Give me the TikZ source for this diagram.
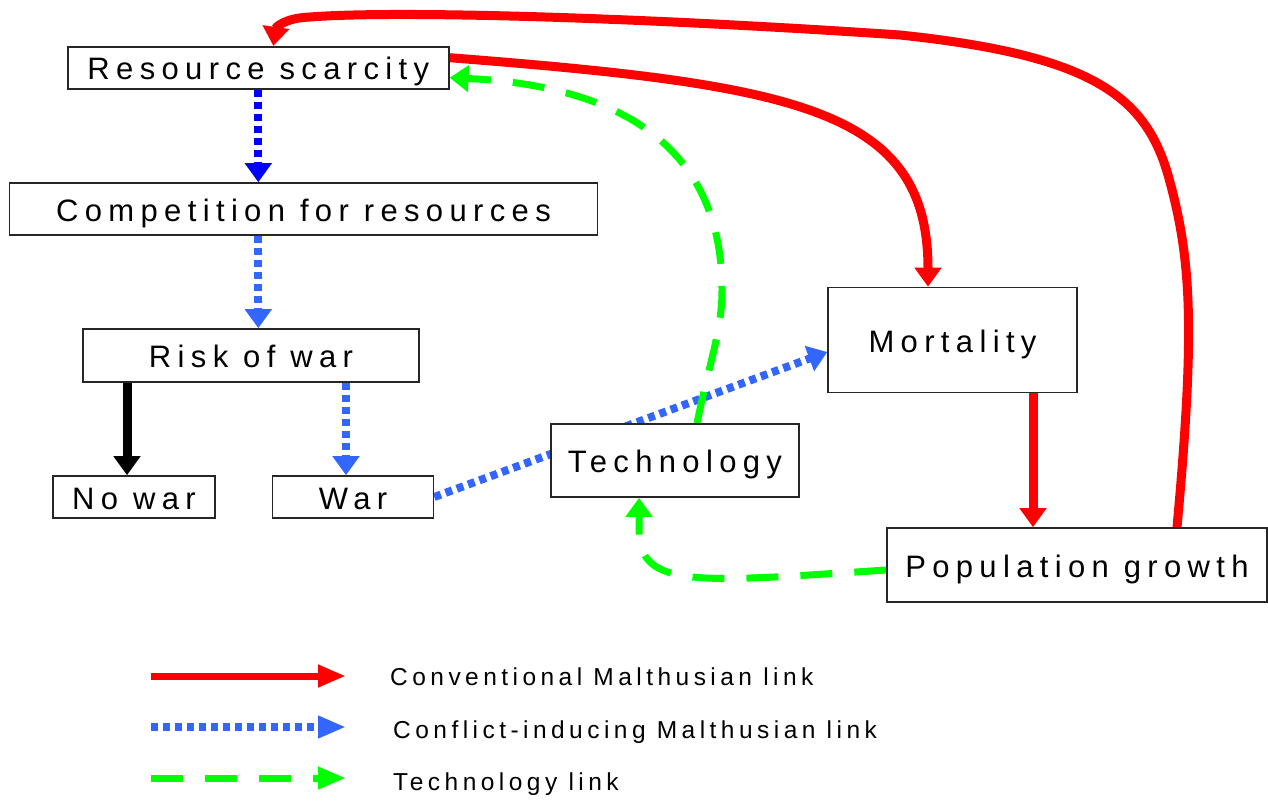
\documentclass[tikz,border=0pt]{standalone}
\usepackage{fontspec}
\setmainfont{Liberation Sans}
\newfontfamily\spacedfont[LetterSpace=20.5]{Liberation Sans}
\newfontfamily\legfont[LetterSpace=18.2]{Liberation Sans}
\usetikzlibrary{arrows.meta,backgrounds}
\definecolor{malred}{RGB}{255,0,0}
\definecolor{deepblue}{RGB}{0,0,255}
\definecolor{confblue}{RGB}{51,102,255}
\definecolor{techgreen}{RGB}{0,255,0}
\tikzset{
         box/.style=
          {
           draw=black!85,line width=1.6pt,fill=white,inner sep=0pt,
           text height=24.5pt,text depth=0pt,
           font=\spacedfont\fontsize{31}{37}\selectfont
          },
         legtext/.style={anchor=west,inner sep=0pt,text height=17.5pt,text depth=0pt,
           font=\legfont\fontsize{24.5}{29}\selectfont},
         head/.style={-{Triangle[length=19pt,width=26pt]}},
         malth/.style={head,draw=malred,line width=9pt},
         conflict/.style={head,draw=confblue,line width=8pt,dash pattern=on 7pt off 5pt},
         techlink/.style={head,draw=techgreen,line width=7pt,dash pattern=on 32pt off 22pt}
        }
\begin{document}
\begin{tikzpicture}[x=1pt,y=-1pt]
\useasboundingbox(0,0)rectangle(1268,801);
%boxes
\node[box,minimum width=381pt,minimum height=42pt] (rs) at (258.3,67.7){Resource scarcity};
\node[box,minimum width=588pt,minimum height=52pt] (comp) at (303.5,209){Competition for resources};
\node[box,minimum width=336pt,minimum height=53pt] (risk) at (251,355.5){Risk of war};
\node[box,minimum width=162pt,minimum height=42pt] (nowar) at (134,497){No war};
\node[box,minimum width=161pt,minimum height=42pt] (war) at (353,497){War};
\node[box,minimum width=248pt,minimum height=73pt] (tech) at (675,460.5){Technology};
\node[box,minimum width=249pt,minimum height=105pt] (mort) at (952.5,340){Mortality};
\node[box,minimum width=380pt,minimum height=74pt] (pop) at (1077,565){Population growth};
\begin{scope}[on background layer]
%conflict chain
\draw[conflict,draw=deepblue](rs.south)--(rs.south|-comp.north);
\draw[conflict](rs.south|-comp.south)--(rs.south|-risk.north);
\draw[head,line width=9pt]([xshift=-7pt]nowar.north|-risk.south)--([xshift=-7pt]nowar.north);
\draw[conflict]([xshift=-7pt]war.north|-risk.south)--([xshift=-7pt]war.north);
\draw[conflict](war.east)--([yshift=-12pt]mort.west);
%malthusian loop
\draw[malth]([yshift=10pt]rs.east)..controls(800,85)and(928,110)..([xshift=-24.5pt]mort.north);
\draw[malth]([xshift=80.5pt]mort.south)--([xshift=80.5pt]mort.south|-pop.north);
\draw[malth]([xshift=100pt]pop.north)..controls(1195,330)and(1192,260)..(1168,175)
  ..controls(1145,95)and(1090,55)..(900,35)..controls(650,18)and(400,10)..(310,17)
  ..controls(285,18)and(276,27)..([xshift=15pt]rs.north);
%technology
\draw[techlink]([xshift=22pt]tech.north)..controls(710,360)and(722,330)..(722,290)
  ..controls(722,140)and(610,85)..([yshift=-10pt]rs.east);
\draw[techlink]([yshift=-5pt]pop.west)..controls(700,582)and(639,590)..(639,530)--([xshift=-36pt]tech.south);
\end{scope}
%legend
\coordinate (l1a) at (151,676); \coordinate (l1b) at (346,676);
\coordinate (l2a) at (151,727); \coordinate (l2b) at (346,727);
\coordinate (l3a) at (151,778); \coordinate (l3b) at (346,778);
\draw[malth,line width=7pt,-{Triangle[length=28pt,width=21pt]}](l1a)--(l1b);
\draw[conflict,-{Triangle[length=28pt,width=21pt]}](l2a)--(l2b);
\draw[techlink,-{Triangle[length=28pt,width=21pt]}](l3a)--(l3b);
\node[legtext] (t1) at (390,677){Conventional Malthusian link};
\node[legtext] (t2) at (393,730){Conflict-inducing Malthusian link};
\node[legtext] (t3) at (393,781.5){Technology link};
\end{tikzpicture}
\end{document}
